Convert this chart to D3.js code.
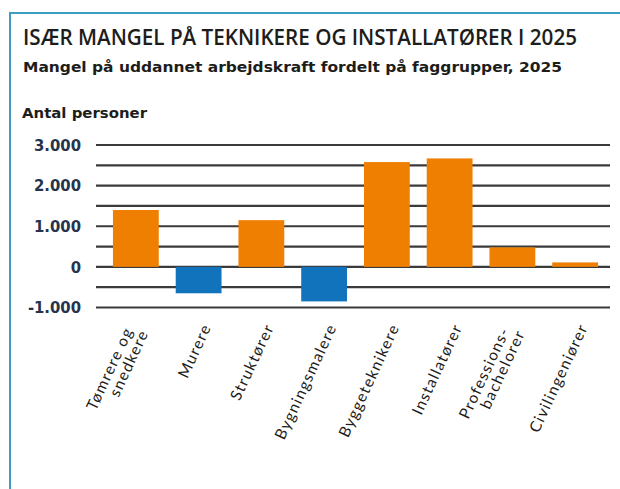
<!DOCTYPE html>
<html>
<head>
<meta charset="utf-8">
<script src="https://cdn.jsdelivr.net/npm/d3@7"></script>
<style>
  body { margin: 0; background: #fff; }
  svg { display: block; }
</style>
</head>
<body>
<svg id="chart"></svg>
<script>
// data
var categories = ["Tømrere og|snedkere", "Murere", "Struktører", "Bygningsmalere",
                  "Byggeteknikere", "Installatører", "Professions-|bachelorer", "Civilingeniører"];
var values = [1400, -650, 1150, -850, 2580, 2670, 480, 110];
var yTicks = [-1000, -500, 0, 500, 1000, 1500, 2000, 2500, 3000];
var yLabelTicks = [-1000, 0, 1000, 2000, 3000];

var width = 620, height = 489;
var fmt = function(v) { return d3.format(",")(v).replace(/,/g, ".").replace("−", "-"); };

var svg = d3.select("#chart")
    .attr("width", width)
    .attr("height", height);

// frame
svg.append("path")
    .attr("d", "M10," + height + "V13H" + width)
    .attr("fill", "none")
    .attr("stroke", "#3e9cc0")
    .attr("stroke-width", 2);

svg.append("text")
    .attr("x", 23).attr("y", 45)
    .attr("textLength", 554).attr("lengthAdjust", "spacingAndGlyphs")
    .style("font-family", "'Open Sans', 'DejaVu Sans Condensed'")
    .style("font-weight", 600)
    .style("font-size", "21px")
    .style("fill", "#1d1d1b")
    .text("ISÆR MANGEL PÅ TEKNIKERE OG INSTALLATØRER I 2025");

svg.append("text")
    .attr("x", 23).attr("y", 72)
    .attr("textLength", 539).attr("lengthAdjust", "spacingAndGlyphs")
    .style("font-family", "'DejaVu Sans Condensed', 'DejaVu Sans'")
    .style("font-weight", "bold")
    .style("font-size", "14.5px")
    .style("fill", "#1d1d1b")
    .text("Mangel på uddannet arbejdskraft fordelt på faggrupper, 2025");

svg.append("text")
    .attr("x", 22).attr("y", 118)
    .attr("textLength", 125).attr("lengthAdjust", "spacingAndGlyphs")
    .style("font-family", "'DejaVu Sans Condensed', 'DejaVu Sans'")
    .style("font-weight", "bold")
    .style("font-size", "14.5px")
    .style("fill", "#1d1d1b")
    .text("Antal personer");

var x = d3.scaleBand()
    .domain(categories)
    .range([96, 615])
    .paddingInner(0.27)
    .paddingOuter(0.27);

var y = d3.scaleLinear()
    .domain([-1000, 3000])
    .range([307.5, 145]);

// grid lines
svg.append("g")
  .selectAll("line")
  .data(yTicks)
  .enter().append("line")
    .attr("x1", 96).attr("x2", 610)
    .attr("y1", function(d) { return y(d); })
    .attr("y2", function(d) { return y(d); })
    .attr("stroke", "#3a3a3a")
    .attr("stroke-width", 2.2);

// y labels
var yAxis = svg.append("g")
    .attr("transform", "translate(88,0)")
    .call(d3.axisLeft(y).tickValues(yLabelTicks).tickSize(0).tickPadding(7).tickFormat(fmt));
yAxis.select(".domain").remove();
yAxis.selectAll("text")
    .style("font-family", "'DejaVu Sans Condensed', 'DejaVu Sans'")
    .style("font-weight", "bold")
    .style("font-size", "16.5px")
    .style("fill", "#26334d");

// bars
svg.append("g")
  .selectAll("rect")
  .data(values)
  .enter().append("rect")
    .attr("x", function(d, i) { return x(categories[i]); })
    .attr("width", x.bandwidth())
    .attr("y", function(d) { return y(Math.max(0, d)); })
    .attr("height", function(d) { return Math.abs(y(d) - y(0)); })
    .attr("fill", function(d) { return d < 0 ? "#1173bb" : "#ee7f00"; });

// category labels, rotated, anchored at the end of the last line
var lab = svg.append("g")
  .selectAll("text")
  .data(categories)
  .enter().append("text")
    .attr("transform", function(d) {
      var n = d.split("|").length;
      return "translate(" + (x(d) + x.bandwidth() / 2 + 13) + "," + (327 + (n - 1) * 6) + ") rotate(-65)";
    })
    .attr("text-anchor", "end")
    .style("font-family", "Lato, 'Open Sans', sans-serif")
    .style("font-size", "15.5px")
    .style("letter-spacing", "1.3px")
    .style("fill", "#1d1d1b");

lab.each(function(d) {
  var lines = d.split("|");
  var t = d3.select(this);
  lines.forEach(function(l, i) {
    var k = lines.length - 1 - i;
    t.append("tspan")
      .attr("x", -k * 4)
      .attr("y", -k * 15)
      .text(l);
  });
});
</script>
</body>
</html>
